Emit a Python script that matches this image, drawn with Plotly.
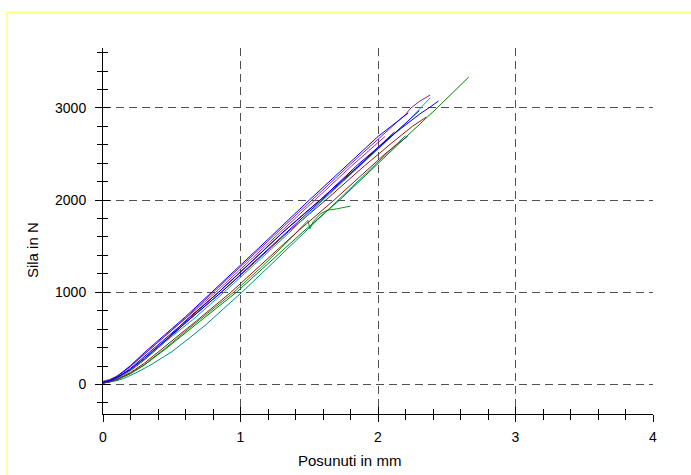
import plotly.graph_objects as go

# ---- data (displacement in mm, force in N) ----
c1_x = [0, 0.05, 0.10, 0.15, 0.20, 0.30, 0.45, 0.60, 0.79, 1.00, 1.20, 1.50, 1.80, 2.00, 2.22]
c1_y = [25, 45, 85, 140, 205, 345, 540, 735, 1000, 1290, 1575, 2000, 2420, 2690, 2945]

c2_x = [0, 0.05, 0.10, 0.15, 0.20, 0.30, 0.45, 0.60, 0.80, 1.00, 1.20, 1.52, 1.80, 2.00, 2.10, 2.20, 2.24, 2.30, 2.38]
c2_y = [30, 50, 85, 135, 195, 330, 525, 720, 1000, 1280, 1560, 2000, 2390, 2660, 2790, 2930, 3000, 3070, 3140]

c3_x = [0, 0.05, 0.10, 0.15, 0.20, 0.30, 0.45, 0.62, 0.84, 1.05, 1.30, 1.58, 1.85, 2.10, 2.30, 2.37, 2.44]
c3_y = [20, 40, 75, 120, 175, 300, 490, 710, 1000, 1290, 1640, 2000, 2380, 2700, 2930, 3000, 3075]

c4_x = [0, 0.05, 0.10, 0.15, 0.20, 0.30, 0.45, 0.65, 0.88, 1.10, 1.35, 1.60, 1.85, 2.05, 2.20, 2.31, 2.38]
c4_y = [20, 38, 68, 108, 155, 270, 460, 700, 1000, 1300, 1640, 2000, 2350, 2620, 2830, 3000, 3110]

c5_x = [0, 0.05, 0.10, 0.15, 0.20, 0.30, 0.45, 0.63, 0.86, 1.10, 1.35, 1.62, 1.90, 2.10, 2.25, 2.35]
c5_y = [15, 35, 65, 105, 150, 265, 460, 710, 1000, 1320, 1660, 2000, 2370, 2620, 2800, 2900]

c6_x = [0, 0.05, 0.10, 0.15, 0.20, 0.30, 0.45, 0.68, 0.93, 1.15, 1.40, 1.68, 1.90, 2.05, 2.15, 2.215]
c6_y = [15, 30, 55, 90, 130, 230, 410, 690, 1000, 1300, 1640, 2000, 2300, 2500, 2620, 2690]

c7_x = [0, 0.05, 0.10, 0.15, 0.20, 0.30, 0.45, 0.70, 0.97, 1.20, 1.45, 1.72, 2.00, 2.20, 2.43, 2.55, 2.66]
c7_y = [15, 28, 50, 80, 118, 210, 380, 680, 1000, 1310, 1650, 2000, 2400, 2680, 3000, 3170, 3335]

c8_x = [0, 0.05, 0.10, 0.15, 0.20, 0.30, 0.45, 0.70, 0.95, 1.15, 1.35, 1.49, 1.505, 1.53, 1.58, 1.63, 1.70, 1.80]
c8_y = [18, 30, 52, 82, 120, 215, 390, 700, 1000, 1270, 1560, 1780, 1690, 1770, 1850, 1890, 1905, 1935]

c9_x = [0, 0.05, 0.10, 0.15, 0.25, 0.35, 0.50, 0.625, 0.75, 0.875, 1.01, 1.20, 1.45, 1.70, 1.95, 2.10, 2.20]
c9_y = [15, 25, 42, 65, 134, 215, 355, 500, 650, 820, 1000, 1270, 1630, 1990, 2350, 2560, 2700]

c10_x = [0, 0.05, 0.10, 0.15, 0.20, 0.30, 0.45, 0.62, 0.82, 1.05, 1.30, 1.55, 1.80, 2.05]
c10_y = [35, 55, 90, 140, 200, 330, 520, 745, 1000, 1320, 1670, 2010, 2360, 2690]

c11_x = [0, 0.05, 0.10, 0.15, 0.20, 0.30, 0.45, 0.64, 0.86, 1.10, 1.35, 1.60, 1.85, 2.10, 2.30]
c11_y = [22, 40, 72, 115, 165, 285, 475, 720, 1000, 1330, 1670, 2010, 2360, 2700, 2970]

c12_x = [0, 0.05, 0.10, 0.15, 0.20, 0.30, 0.45, 0.62, 0.84, 1.08, 1.33, 1.60, 1.85, 2.12]
c12_y = [25, 42, 72, 112, 160, 275, 470, 720, 1000, 1330, 1680, 2030, 2360, 2740]

x_ticks = [0, 1, 2, 3, 4]
y_ticks = [0, 1000, 2000, 3000]
x_title = "Posunuti in mm"
y_title = "Sila in N"

series = [
    (c9_x, c9_y, "#008b8b"),
    (c8_x, c8_y, "#1a8f1a"),
    (c7_x, c7_y, "#008000"),
    (c6_x, c6_y, "#8b1a1a"),
    (c5_x, c5_y, "#a01010"),
    (c12_x, c12_y, "#800000"),
    (c4_x, c4_y, "#1e9e9e"),
    (c11_x, c11_y, "#0000ff"),
    (c3_x, c3_y, "#0000ee"),
    (c10_x, c10_y, "#9932a0"),
    (c2_x, c2_y, "#8b228b"),
    (c1_x, c1_y, "#0000ff"),
]

FONT = "Liberation Sans, Arial, sans-serif"
XR = [0, 4]
YR = [-320, 3650]

fig = go.Figure()
for xs, ys, col in series:
    fig.add_trace(go.Scatter(x=xs, y=ys, mode="lines",
                             line=dict(color=col, width=1),
                             showlegend=False, hoverinfo="skip"))

# invisible trace so that the overlay axes (inside half of the crossing ticks) get drawn
fig.add_trace(go.Scatter(x=c1_x, y=c1_y, xaxis="x2", yaxis="y2", mode="lines",
                         line=dict(width=0), opacity=0, showlegend=False,
                         hoverinfo="skip"))

grid = dict(showgrid=True, gridcolor="#505050", gridwidth=1, griddash="8px,5px")

fig.update_layout(
    width=691, height=475,
    margin=dict(l=103, r=38, t=48, b=61),
    paper_bgcolor="white", plot_bgcolor="white",
    font=dict(family=FONT, size=14, color="black"),
    xaxis=dict(range=XR, tickvals=x_ticks, **grid, zeroline=False,
               showline=True, linecolor="black", linewidth=1,
               ticks="outside", ticklen=7, tickcolor="black", tickwidth=1,
               ticklabelstandoff=3, tickfont=dict(size=14),
               minor=dict(dtick=0.2, ticks="outside", ticklen=5,
                          tickcolor="black", showgrid=False)),
    yaxis=dict(range=YR, tickvals=y_ticks, **grid, zeroline=False,
               showline=True, linecolor="black", linewidth=1,
               ticks="outside", ticklen=7, tickcolor="black", tickwidth=1,
               ticklabelstandoff=6, tickfont=dict(size=14),
               minor=dict(dtick=200, ticks="outside", ticklen=5,
                          tickcolor="black", showgrid=False)),
    xaxis2=dict(range=XR, overlaying="x", anchor="y2", showgrid=False,
                zeroline=False, showticklabels=False, tickvals=x_ticks,
                ticks="inside", ticklen=7, tickcolor="black",
                minor=dict(dtick=0.2, ticks="inside", ticklen=5,
                           tickcolor="black", showgrid=False)),
    yaxis2=dict(range=YR, overlaying="y", anchor="x2", showgrid=False,
                zeroline=False, showticklabels=False, tickvals=y_ticks,
                ticks="inside", ticklen=7, tickcolor="black",
                minor=dict(dtick=200, ticks="inside", ticklen=5,
                           tickcolor="black", showgrid=False)),
    shapes=[dict(type="rect", xref="paper", yref="paper",
                 x0=-0.1745, x1=2.0, y0=-1.0, y1=1.097,
                 line=dict(color="#ffff80", width=1.5), layer="below")],
    annotations=[
        dict(text=x_title, xref="paper", yref="paper", x=0.449, y=-0.1257,
             xanchor="center", yanchor="middle", showarrow=False,
             font=dict(family=FONT, size=15)),
        dict(text=y_title, xref="paper", yref="paper", x=-0.129, y=0.448,
             xanchor="center", yanchor="middle", showarrow=False,
             textangle=-90, font=dict(family=FONT, size=15)),
    ],
)

fig.write_html("out.html")
